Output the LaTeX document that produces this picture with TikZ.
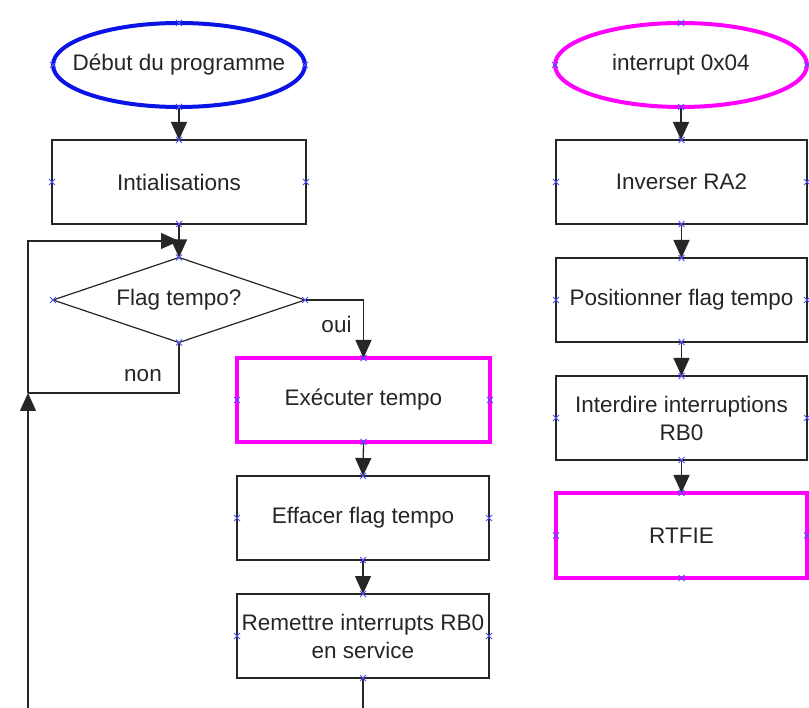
\documentclass[tikz,border=0pt]{standalone}
\usepackage{fontspec}
\setmainfont{Liberation Sans}
\usetikzlibrary{shapes.geometric,arrows.meta}
\definecolor{ptcol}{RGB}{80,80,250}
\definecolor{mag}{RGB}{255,0,255}
\definecolor{blu}{RGB}{10,20,230}
\tikzset{
  every node/.style={font=\fontsize{22.5}{28}\selectfont, text=black!85, outer sep=0pt},
  stepbox/.style={draw=black!85, line width=1.2pt, rectangle, minimum height=84pt, inner sep=0pt, align=center},
  hotbox/.style={stepbox, draw=mag, line width=4pt},
  termin/.style={ellipse, minimum width=252pt, minimum height=84pt, inner sep=0pt, line width=4pt},
  decide/.style={diamond, draw=black!85, line width=1.2pt, aspect=3, inner sep=0pt, minimum width=252pt, minimum height=85pt},
  conn/.style={draw=black!85, line width=1.3pt},
  arr/.style={conn, -{Triangle[width=16pt,length=18pt]}},
  lbl/.style={inner sep=0pt},
  cpt/.pic={\draw[ptcol, line width=1pt] (-3,-3) -- (3,3) (-3,3) -- (3,-3);}
}
\begin{document}
\begin{tikzpicture}[x=1pt,y=-1pt]
\useasboundingbox[fill=white] (0,0) rectangle (809,708);

% main program
\node[termin, draw=blu] (start) at (179,65) {\makebox[0pt]{Début du programme}};
\node[stepbox, minimum width=254pt] (init) at (179,182) {Intialisations};
\node[decide] (flag) at (179,300) {\makebox[0pt]{Flag tempo?}};
\node[hotbox, minimum width=253pt] (exec) at (363.5,400) {Exécuter tempo};
\node[stepbox, minimum width=252pt] (eff) at (363,518) {Effacer flag tempo};
\node[stepbox, minimum width=252pt] (remet) at (363,636) {Remettre interrupts RB0\\en service};

% interrupt routine
\node[termin, draw=mag] (irq) at (681,65) {\makebox[0pt]{interrupt 0x04}};
\node[stepbox, minimum width=251pt] (inv) at (681.5,182) {Inverser RA2};
\node[stepbox, minimum width=251pt] (pos) at (681.5,300) {Positionner flag tempo};
\node[stepbox, minimum width=251pt] (intd) at (681.5,418) {Interdire interruptions\\RB0};
\node[hotbox, minimum width=251pt, minimum height=85pt] (rtf) at (681.5,535.5) {RTFIE};

% branch labels
\node[lbl, anchor=base] (oui) at (336.5,333) {oui};
\node[lbl, anchor=base] (non) at (143,382) {non};

% loop-back route
\coordinate (loopin) at (28,712);
\coordinate (loopout) at (363,712);
\coordinate (joinL) at (28,393);
\coordinate (topL) at (28,241);

% connectors
\draw[arr] (start.south) -- (init.north);
\draw[arr] (init.south) -- (flag.north);
\draw[arr] (flag.east) -| (exec.north);
\draw[conn] (flag.south) |- (joinL);
\draw[arr] (loopin) -- (joinL);
\draw[arr] (joinL) |- (init.south |- topL);
\draw[arr] (exec.south) -- (eff.north);
\draw[arr] (eff.south) -- (remet.north);
\draw[conn] (remet.south) -- (loopout);

\draw[arr] (irq.south) -- (irq.south |- inv.north);
\draw[arr] (inv.south) -- (pos.north);
\draw[arr] (pos.south) -- (intd.north);
\draw[arr] (intd.south) -- (rtf.north);

% connection points
\foreach \n in {start,init,flag,exec,eff,remet,irq,inv,pos,intd,rtf}
  \foreach \a in {north,south,east,west}
    \pic at (\n.\a) {cpt};
\end{tikzpicture}
\end{document}
